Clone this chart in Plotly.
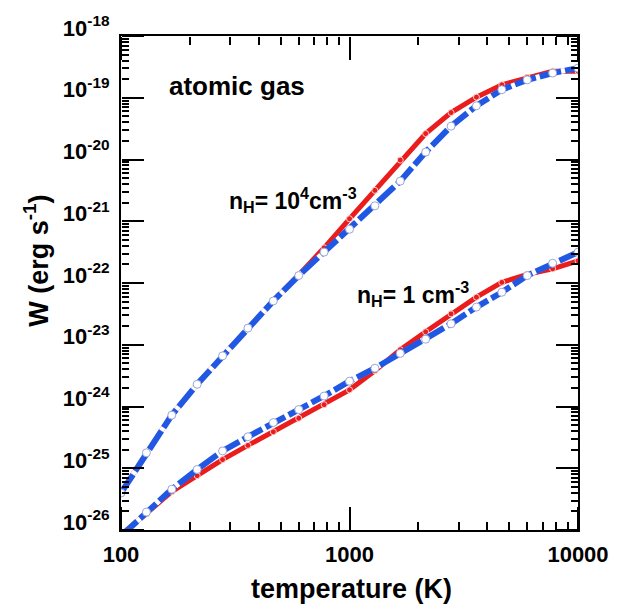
import numpy as np
import plotly.graph_objects as go

# Temperatures (K) of the plotted points (evenly spaced on the log axis)
temperature = [100, 129.2, 166.8, 215.4, 278.3, 359.4, 464.2, 599.5, 774.3, 1000,
               1291.5, 1668.1, 2154.4, 2782.6, 3593.8, 4641.6, 5994.8, 7742.6, 10000]

# log10 W (erg s^-1), n_H = 1e4 cm^-3
logW_high_red = [-25.40, -24.75, -24.14, -23.64, -23.18, -22.73, -22.29, -21.87, -21.43, -20.96,
                 -20.50, -20.01, -19.58, -19.24, -18.99, -18.79, -18.67, -18.57, -18.57]
logW_high_blue = [-25.40, -24.75, -24.14, -23.64, -23.18, -22.73, -22.29, -21.88, -21.50, -21.13,
                  -20.75, -20.35, -19.88, -19.46, -19.13, -18.87, -18.71, -18.60, -18.52]

# log10 W (erg s^-1), n_H = 1 cm^-3
logW_low_red = [-26.08, -25.74, -25.38, -25.12, -24.86, -24.63, -24.41, -24.19, -23.97, -23.73,
                -23.42, -23.08, -22.79, -22.50, -22.23, -21.99, -21.86, -21.77, -21.64]
logW_low_blue = [-26.10, -25.71, -25.34, -25.02, -24.72, -24.49, -24.26, -24.05, -23.83, -23.59,
                 -23.38, -23.14, -22.91, -22.66, -22.39, -22.15, -21.88, -21.68, -21.50]

x_tickvals = [100, 1000, 10000]
x_ticktext = ["100", "1000", "10000"]
y_exponents = [-26, -25, -24, -23, -22, -21, -20, -19, -18]
y_tickvals = [10.0 ** e for e in y_exponents]
y_ticktext = ["10<sup>%d</sup>" % e for e in y_exponents]

# minor tick positions (2..9 x each decade)
digits = [2, 3, 4, 5, 6, 7, 8, 9]
x_minor = [d * 10.0 ** e for e in (2, 3) for d in digits]
y_minor = [d * 10.0 ** e for e in y_exponents[:-1] for d in digits]

X_RANGE = [2, 4]
Y_RANGE = [-26, -18]

FONT = "Liberation Sans, Arial, sans-serif"
RED = "#ea1c1c"
BLUE = "#2158e3"

fig = go.Figure()

# red solid curves (main axes, drawn underneath)
for logw in (logW_high_red, logW_low_red):
    fig.add_trace(go.Scatter(
        x=temperature, y=np.power(10.0, logw), mode="lines+markers",
        line=dict(color=RED, width=5),
        marker=dict(size=6, color=RED, line=dict(color="#ffd0d0", width=1)),
        hoverinfo="skip"))

# white underlay for the blue dashes (so the gaps read as white)
for logw in (logW_high_blue, logW_low_blue):
    fig.add_trace(go.Scatter(
        x=temperature, y=np.power(10.0, logw), mode="lines",
        xaxis="x2", yaxis="y2",
        line=dict(color="white", width=5), hoverinfo="skip"))

# blue dashed curves with open markers (drawn on top)
for logw in (logW_high_blue, logW_low_blue):
    fig.add_trace(go.Scatter(
        x=temperature, y=np.power(10.0, logw), mode="lines+markers",
        xaxis="x3", yaxis="y3",
        line=dict(color=BLUE, width=6, dash="22px,4px"),
        marker=dict(size=8, color="white", line=dict(color="#9aa8d8", width=1)),
        hoverinfo="skip"))

tickfont = dict(family=FONT, size=22, color="black", weight="bold")

# main axes: frame + labels
main_common = dict(type="log", showline=True, linecolor="black", linewidth=2, mirror=True,
                   showgrid=False, zeroline=False, ticks="", tickfont=tickfont)
# tick-only axes placed so that "outside" ticks point into the plot
tick_common = dict(type="log", showline=False, showgrid=False, zeroline=False,
                   showticklabels=False, ticks="outside", tickwidth=1.5, tickcolor="black",
                   anchor="free")

x_ticks = dict(tickmode="array", tickvals=x_tickvals, ticklen=23,
               minor=dict(ticks="outside", ticklen=8, tickwidth=1.5, tickcolor="black",
                          tickmode="array", tickvals=x_minor, showgrid=False))
y_ticks = dict(tickmode="array", tickvals=y_tickvals, ticklen=22,
               minor=dict(ticks="outside", ticklen=7, tickwidth=1.5, tickcolor="black",
                          tickmode="array", tickvals=y_minor, showgrid=False))

fig.update_layout(
    xaxis=dict(**main_common, range=X_RANGE, tickmode="array", tickvals=x_tickvals,
               ticktext=x_ticktext, ticklabelstandoff=4),
    yaxis=dict(**main_common, range=Y_RANGE, tickmode="array", tickvals=y_tickvals,
               ticktext=y_ticktext, ticklabelstandoff=5, ticklabelshift=-8),
    # bottom ticks (pointing up) and left ticks (pointing right)
    xaxis2=dict(**tick_common, **x_ticks, range=X_RANGE, overlaying="x", side="top", position=0),
    yaxis2=dict(**tick_common, **y_ticks, range=Y_RANGE, overlaying="y", side="right", position=0),
    # top ticks (pointing down) and right ticks (pointing left)
    xaxis3=dict(**tick_common, **x_ticks, range=X_RANGE, overlaying="x", side="bottom", position=1),
    yaxis3=dict(**tick_common, **y_ticks, range=Y_RANGE, overlaying="y", side="left", position=1),
)

ann_font = dict(family=FONT, color="black", weight="bold")
annotations = [
    dict(text="atomic gas", x=0.254, y=0.898, xanchor="center", yanchor="middle",
         font=dict(size=26, **ann_font)),
    dict(text="n<sub>H</sub>= 10<sup>4</sup>cm<sup>-3</sup>", x=0.232, y=0.668,
         xanchor="left", yanchor="middle", font=dict(size=23, **ann_font)),
    dict(text="n<sub>H</sub>= 1 cm<sup>-3</sup>", x=0.512, y=0.477,
         xanchor="left", yanchor="middle", font=dict(size=23, **ann_font)),
    dict(text="temperature (K)", x=0.505, y=-0.12, xanchor="center", yanchor="middle",
         font=dict(size=27, **ann_font)),
    dict(text="W (erg s<sup>-1</sup>)", x=-0.186, y=0.545, xanchor="center", yanchor="middle",
         textangle=-90, font=dict(size=27, **ann_font)),
]
for a in annotations:
    a.update(xref="paper", yref="paper", showarrow=False)

fig.update_layout(
    width=630, height=606, margin=dict(l=121, r=52, t=31, b=76),
    plot_bgcolor="rgba(0,0,0,0)", paper_bgcolor="white", showlegend=False,
    annotations=annotations,
)

fig.write_html("out.html")
